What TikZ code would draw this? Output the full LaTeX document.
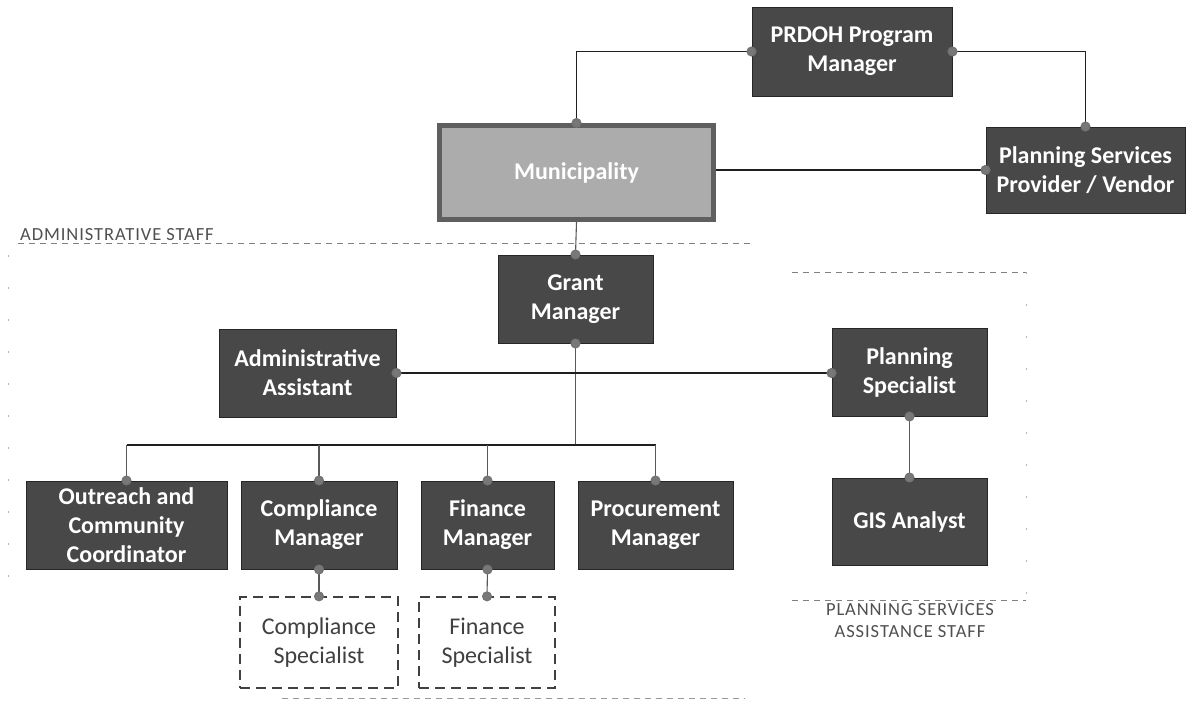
\documentclass[tikz,border=0pt]{standalone}
\usepackage{fontspec}
\setmainfont{Carlito}
\newfontfamily\labfont[LetterSpace=5]{Carlito}
\usetikzlibrary{arrows.meta}
\definecolor{boxgray}{RGB}{72,72,72}
\definecolor{munifill}{RGB}{172,172,172}
\definecolor{muniedge}{RGB}{95,95,95}
\definecolor{dotgray}{RGB}{120,120,120}
\definecolor{labgray}{RGB}{80,80,80}
\begin{document}
\begin{tikzpicture}[x=1pt,y=-1pt,
  dbox/.style={draw=black!85, line width=1pt, fill=boxgray, text=white,
    font=\bfseries\fontsize{24}{29}\selectfont, align=center, inner sep=2pt},
  munibox/.style={draw=muniedge, line width=5pt, fill=munifill, text=white,
    font=\bfseries\fontsize{24}{29}\selectfont, align=center, inner sep=2pt},
  specbox/.style={draw=black!75, dash pattern=on 10pt off 6pt, line width=1.3pt,
    fill=white, text=black!75, font=\fontsize{24}{29}\selectfont, align=center},
  conn/.style={draw=black!88, line width=1.8pt},
  vconn/.style={draw=black!65, line width=1.1pt},
  dotend/.style={-{Circle[length=10pt,fill=dotgray,color=black!55]}, shorten >=-5pt},
  dotstart/.style={{Circle[length=10pt,fill=dotgray,color=black!55]}-, shorten <=-5pt},
  dotboth/.style={{Circle[length=10pt,fill=dotgray,color=black!55]}-{Circle[length=10pt,fill=dotgray,color=black!55]}, shorten <=-5pt, shorten >=-5pt},
  region/.style={draw=black!50, dash pattern=on 6pt off 5pt, line width=0.8pt},
  faint/.style={draw=black!30, dash pattern=on 2pt off 30pt, line width=0.8pt},
  lab/.style={text=labgray, font=\labfont\fontsize{18.5}{22}\selectfont, align=center, inner sep=0pt}
]
\useasboundingbox (0,0) rectangle (1188,704);
\fill[white] (0,0) rectangle (1188,704);

% region outlines
\draw[region] (18,243) -- (753,243);
\node[lab, anchor=south west] (adminlab) at (20,241) {ADMINISTRATIVE STAFF};
\draw[faint] (8,255) -- (8,580);
\draw[region, draw=black!40] (282,698) -- (745,698);

\draw[region] (792,272) -- (1026,272);
\draw[faint] (1026,272) -- (1026,600);
\draw[region] (792,600) -- (1026,600);
\node[lab, anchor=north] (planlab) at (910,603) {PLANNING SERVICES\\ASSISTANCE STAFF};

% nodes
\node[dbox, minimum width=200, minimum height=89] (prdoh) at (852,51.5) {PRDOH Program\\Manager};
\node[munibox, minimum width=274, minimum height=94] (muni) at (576.5,172.5) {Municipality};
\node[dbox, minimum width=199, minimum height=86] (psv) at (1085.5,170) {Planning Services\\Provider / Vendor};
\node[dbox, minimum width=155, minimum height=88] (grant) at (575.5,299) {Grant\\Manager};
\node[dbox, minimum width=177, minimum height=88] (admin) at (307.5,373) {Administrative\\Assistant};
\node[dbox, minimum width=155, minimum height=88] (planspec) at (909.5,372) {Planning\\Specialist};
\node[dbox, minimum width=155, minimum height=87] (gis) at (909.5,521.5) {GIS Analyst};
\node[dbox, minimum width=201, minimum height=88] (outreach) at (126.5,525) {Outreach and\\Community\\Coordinator};
\node[dbox, minimum width=156, minimum height=88] (compmgr) at (319,525) {Compliance\\Manager};
\node[dbox, minimum width=133, minimum height=88] (finmgr) at (487.5,525) {Finance\\Manager};
\node[dbox, minimum width=155, minimum height=88] (procure) at (655.5,525) {Procurement\\Manager};
\node[specbox, minimum width=158, minimum height=91] (compspec) at (319,642.5) {Compliance\\Specialist};
\node[specbox, minimum width=136, minimum height=91] (finspec) at (487,642.5) {Finance\\Specialist};

% bus coordinate
\coordinate (bus) at (575.5,445);

% connectors
\draw[conn, dotboth] (muni.north) |- (prdoh.west);
\draw[conn, dotboth] (prdoh.east) -| (psv.north);
\draw[conn, dotend] (psv.west -| muni.east) -- (psv.west);
\draw[vconn, dotend] (muni.south) -- (grant.north);
\draw[vconn, dotstart] (grant.south) -- (bus);
\draw[conn, dotboth] (admin.east) -- (admin.east -| planspec.west);
\draw[conn] (outreach.north |- bus) -- (procure.north |- bus);
\draw[vconn, dotend] (outreach.north |- bus) -- (outreach.north);
\draw[vconn, dotend] (compmgr.north |- bus) -- (compmgr.north);
\draw[vconn, dotend] (finmgr.north |- bus) -- (finmgr.north);
\draw[vconn, dotend] (procure.north |- bus) -- (procure.north);
\draw[vconn, dotboth] (compmgr.south) -- (compspec.north);
\draw[vconn, dotboth] (finmgr.south) -- (finspec.north);
\draw[vconn, dotboth] (planspec.south) -- (gis.north);
\end{tikzpicture}
\end{document}
